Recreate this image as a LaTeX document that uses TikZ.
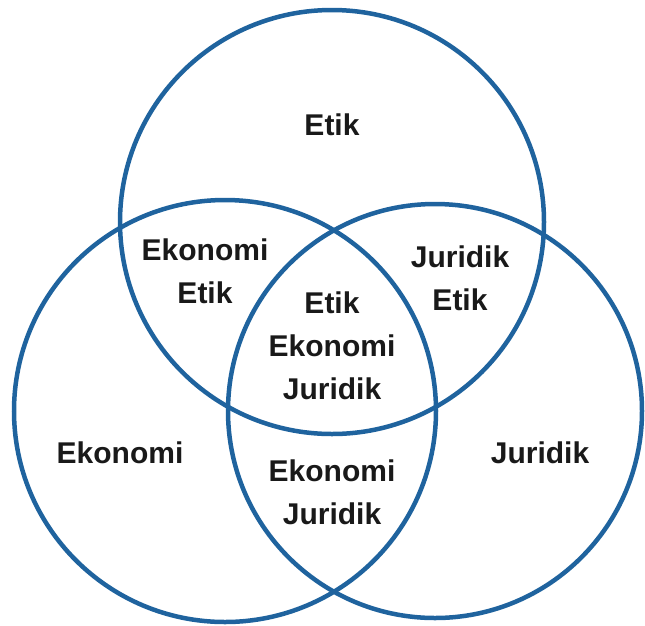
\documentclass[tikz,border=0pt]{standalone}
\usepackage{fontspec}
\setmainfont{Liberation Sans}
\definecolor{vennblue}{RGB}{31,99,158}
\begin{document}
\begin{tikzpicture}[x=1pt,y=-1pt,
  ring/.style={draw=vennblue,line width=4.5pt},
  lbl/.style={align=center,font=\fontsize{30}{43}\selectfont\bfseries,text=black!90}]
\useasboundingbox (0,0) rectangle (645,625);
\coordinate (ctop) at (332,222);
\coordinate (cleft) at (225,411);
\coordinate (cright) at (435,411);
\draw [ring] (ctop) circle [radius=212];
\draw [ring] (cleft) circle [radius=211];
\draw [ring] (cright) circle [radius=207];
\node [lbl] (etik) at (332,125) {Etik};
\node [lbl] (ekoetik) at (205,271) {Ekonomi\\Etik};
\node [lbl] (juretik) at (460,278) {Juridik\\Etik};
\node [lbl] (alla) at (332,346) {Etik\\Ekonomi\\Juridik};
\node [lbl] (eko) at (120,453) {Ekonomi};
\node [lbl] (jur) at (540,453) {Juridik};
\node [lbl] (ekojur) at (332,492) {Ekonomi\\Juridik};
\end{tikzpicture}
\end{document}
